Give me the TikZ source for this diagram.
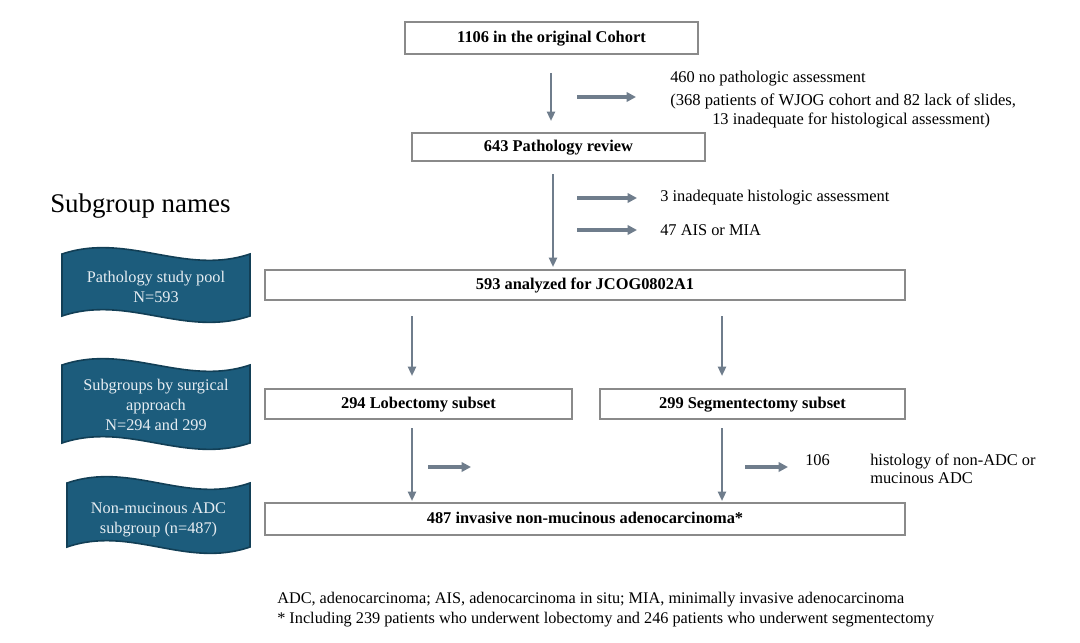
\documentclass[tikz,border=0pt]{standalone}
\usepackage{fontspec}
\setmainfont{Liberation Serif}
\usetikzlibrary{arrows.meta}
\definecolor{arrgray}{HTML}{6F7D8C}
\definecolor{boxgray}{HTML}{8A8A8A}
\definecolor{bannerfill}{HTML}{1C5C7C}
\definecolor{bannerdraw}{HTML}{123F56}
\definecolor{bannertext}{HTML}{E6EDF2}
\newcommand{\wavebanner}[4]{%
  \path[fill=bannerfill,draw=bannerdraw,line width=1.2pt]
    (#1,#2) .. controls ({#1+0.35*(#3-#1)},{#2-22}) and ({#1+0.65*(#3-#1)},{#2+22}) .. (#3,#2)
    -- (#3,#4) .. controls ({#1+0.65*(#3-#1)},{#4+22}) and ({#1+0.35*(#3-#1)},{#4-22}) .. (#1,#4) -- cycle;}
\tikzset{
  x=0.75pt, y=-0.75pt,
  flowbox/.style={draw=boxgray, line width=0.8pt, fill=white, inner sep=0pt,
    text height=0.9em, text depth=0.22em,
    font=\fontsize{12.3}{14}\selectfont\bfseries},
  note/.style={inner sep=0pt, anchor=west, font=\fontsize{12.3}{15}\selectfont, align=left},
  bantext/.style={inner sep=0pt, text=bannertext, align=center, font=\fontsize{12.2}{14.8}\selectfont},
  downarr/.style={draw=arrgray, line width=1.6pt, -{Triangle[length=7pt,width=6pt]}},
  sidearr/.style={draw=arrgray, line width=2.4pt, -{Triangle[length=7pt,width=7pt]}},
}
\begin{document}
\begin{tikzpicture}
\useasboundingbox (0,0) rectangle (1080,642);

% flow boxes
\node[flowbox, minimum width=293*0.75pt, minimum height=32*0.75pt] (b1) at (551.5,38) {1106 in the original Cohort};
\node[flowbox, minimum width=293*0.75pt, minimum height=28*0.75pt] (b2) at (558.5,147) {643 Pathology review};
\node[flowbox, minimum width=640*0.75pt, minimum height=30*0.75pt] (b3) at (585,285) {593 analyzed for JCOG0802A1};
\node[flowbox, minimum width=307*0.75pt, minimum height=30*0.75pt] (bl) at (418.5,404) {294 Lobectomy subset};
\node[flowbox, minimum width=305*0.75pt, minimum height=30*0.75pt] (br) at (752.5,404) {299 Segmentectomy subset};
\node[flowbox, minimum width=640*0.75pt, minimum height=32*0.75pt] (b4) at (585,519) {487 invasive non-mucinous adenocarcinoma*};

% side notes
\node[note] (n1) at (670,79) {460 no pathologic assessment};
\node[note, font=\fontsize{12.45}{15}\selectfont] (n1b) at (670,101) {(368 patients of WJOG cohort and 82 lack of slides,};
\node[note] (n1c) at (712,120) {13 inadequate for histological assessment)};
\node[note] (n2) at (660,198) {3 inadequate histologic assessment};
\node[note] (n3) at (660,230) {47 AIS or MIA};
\node[note] (n4a) at (805,460) {106};
\node[note, font=\fontsize{12.3}{13.6}\selectfont] (n4) at (870,469) {histology of non-ADC or\\mucinous ADC};

% down arrows
\coordinate (d1s) at (551,73);  \coordinate (d1e) at (551,121);
\coordinate (d2s) at (553,174); \coordinate (d2e) at (553,267);
\coordinate (d3s) at (412,316); \coordinate (d3e) at (412,376);
\coordinate (d4s) at (722,316); \coordinate (d4e) at (722,376);
\coordinate (d5s) at (412,428); \coordinate (d5e) at (412,501);
\coordinate (d6s) at (722,428); \coordinate (d6e) at (722,501);
\foreach \i in {1,...,6} { \draw[downarr] (d\i s) -- (d\i e); }

% side arrows
\coordinate (s1s) at (577,97);  \coordinate (s1e) at (636,97);
\coordinate (s2s) at (577,198); \coordinate (s2e) at (637,198);
\coordinate (s3s) at (577,230); \coordinate (s3e) at (637,230);
\coordinate (s4s) at (428,467); \coordinate (s4e) at (471,467);
\coordinate (s5s) at (745,467); \coordinate (s5e) at (788,467);
\foreach \i in {1,...,5} { \draw[sidearr] (s\i s) -- (s\i e); }

% subgroup names
\node[inner sep=0pt, anchor=west, font=\fontsize{20.2}{24}\selectfont] (sgn) at (50,206) {Subgroup names};

\wavebanner{62}{254}{250}{316}
\node[bantext] (g1) at (156,287) {Pathology study pool\\N=593};
\wavebanner{62}{365}{250}{443}
\node[bantext] (g2) at (156,405) {Subgroups by surgical\\approach\\N=294 and 299};
\wavebanner{67}{483}{250}{547}
\node[bantext] (g3) at (158.5,520) {Non-mucinous ADC\\subgroup (n=487)};

% footnotes
\node[note, font=\fontsize{12.2}{15}\selectfont] (f1) at (277,600) {ADC, adenocarcinoma; AIS, adenocarcinoma in situ; MIA, minimally invasive adenocarcinoma};
\node[note, font=\fontsize{12.2}{15}\selectfont] (f2) at (277,620) {* Including 239 patients who underwent lobectomy and 246 patients who underwent segmentectomy};
\end{tikzpicture}
\end{document}
